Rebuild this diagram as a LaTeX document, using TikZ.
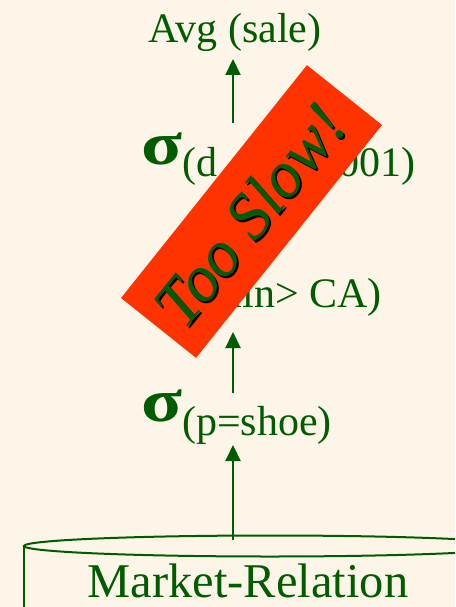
\documentclass[tikz,border=0pt]{standalone}
\usepackage{fontspec}
\setmainfont{Liberation Serif}
\usetikzlibrary{arrows.meta}
\definecolor{bg}{RGB}{253,245,232}
\definecolor{dkgreen}{RGB}{0,92,0}
\definecolor{slowred}{RGB}{255,51,0}
\tikzset{
  lbl/.style={text=dkgreen, inner sep=0pt, font=\fontsize{42}{48}\selectfont},
  opnode/.style={text=dkgreen, inner sep=0pt, font=\fontsize{42}{48}\selectfont},
  arr/.style={draw=dkgreen, line width=2.2pt, -{Triangle[width=15pt,length=16pt]}},
  cyl/.style={draw=dkgreen, line width=2pt},
  stampword/.style={rotate=51.2, inner sep=0pt, font=\fontsize{66}{70}\selectfont\itshape},
}
\newcommand{\sgm}{{\fontsize{58}{60}\selectfont\bfseries\scalebox{1.3}[1.05]{σ}}}
\begin{document}
\begin{tikzpicture}[x=1pt,y=-1pt]
\useasboundingbox (0,0) rectangle (455,607);
\fill[bg] (0,0) rectangle (455,607);
\begin{scope}
\clip (0,0) rectangle (455,607);
% nodes
\node[lbl, anchor=base] (avg) at (235,43) {Avg (sale)};
\node[opnode, anchor=base west] (seld) at (141,164) {\sgm\raisebox{-13pt}{(d\hspace{33pt}> 1/2001)}};
\node[opnode, anchor=base east] (selr) at (382,294) {\sgm\raisebox{-13pt}{(min> CA)}};
\node[opnode, anchor=base west] (selp) at (141,421) {\sgm\raisebox{-14pt}{(p=shoe)}};
% cylinder
\draw[cyl] (24,546) -- (24,640);
\draw[cyl] (517,546) -- (517,640);
\draw[cyl] (270,546) ellipse [x radius=246, y radius=10.5];
\node[lbl, anchor=base, font=\fontsize{48.5}{54}\selectfont] (mr) at (248,597) {Market-Relation};
% connector end points
\coordinate (c0) at (233,540);
\coordinate (c1) at (233,445);
\coordinate (c2) at (233,393);
\coordinate (c3) at (233,332);
\coordinate (c4) at (233,250);
\coordinate (c5) at (233,190);
\coordinate (c6) at (233,123);
\coordinate (c7) at (233,59);
\draw[arr] (c0) -- (c1);
\draw[arr] (c2) -- (c3);
\draw[arr] (c4) -- (c5);
\draw[arr] (c6) -- (c7);
% stamp
\node[fill=slowred, draw=none, minimum width=298pt, minimum height=96pt, rotate=51.4, inner sep=0pt] (stamp) at (251.5,211.5) {};
\coordinate (wordc) at (250,215);
\node[stampword, text=black] (shadow) at ([xshift=2pt,yshift=-2pt]wordc) {Too Slow!};
\node[stampword, text=dkgreen] (slow) at (wordc) {Too Slow!};
\end{scope}
\end{tikzpicture}
\end{document}
